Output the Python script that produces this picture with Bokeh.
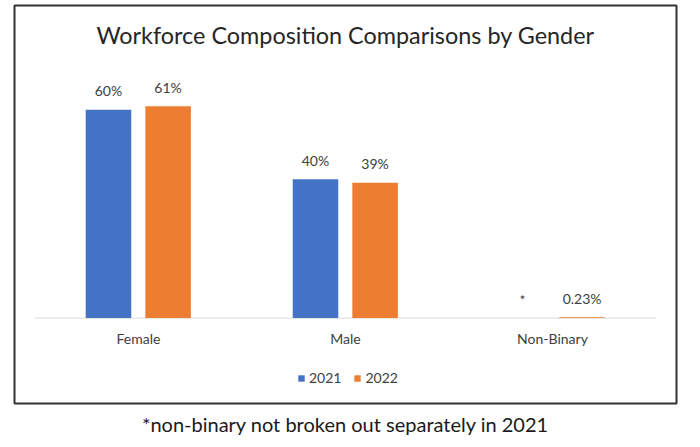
from bokeh.plotting import figure
from bokeh.models import FactorRange, Range1d, ColumnDataSource, Label, Legend, LegendItem, Title
from bokeh.transform import dodge
from bokeh.core.properties import value
from bokeh.embed import file_html
from bokeh.resources import INLINE
import math

categories = ["Female", "Male", "Non-Binary"]
years = ["2021", "2022"]
values_2021 = [60, 40, float("nan")]
values_2022 = [61, 39, 0.23]
labels_2021 = ["60%", "40%", "*"]
labels_2022 = ["61%", "39%", "0.23%"]
title_text = "Workforce Composition Comparisons by Gender"
caption_text = "*non-binary not broken out separately in 2021"

BLUE = "#4472C4"
ORANGE = "#ED7D31"
FONT = value("Lato")

p = figure(width=684, height=445, output_backend="svg", toolbar_location=None,
           x_range=FactorRange(*categories, range_padding=0.066),
           y_range=Range1d(-24.6, 90.06),
           min_border_left=14, min_border_right=8, min_border_top=5, min_border_bottom=42)
p.x_range.range_padding_units = "percent"
p.axis.visible = False
p.grid.visible = False
p.outline_line_color = "#333333"
p.outline_line_width = 2
p.background_fill_color = "white"
p.border_fill_color = "white"

src = ColumnDataSource(dict(
    cat=categories,
    v21=[0 if math.isnan(v) else v for v in values_2021],
    v21bar=values_2021,
    v22=values_2022,
    l21=labels_2021,
    l22=labels_2022,
    zero=[0] * len(categories),
))

# baseline axis line
p.segment(x0=0, x1=len(categories), y0=0, y1=0, line_color="#d9d9d9", line_width=1)

r21 = p.vbar(x=dodge("cat", -0.145, range=p.x_range), top="v21bar", width=0.22,
             source=src, fill_color=BLUE, line_color=None)
r22 = p.vbar(x=dodge("cat", 0.143, range=p.x_range), top="v22", width=0.22,
             source=src, fill_color=ORANGE, line_color=None)

p.text(x=dodge("cat", -0.145, range=p.x_range), y="v21", text="l21", source=src,
       text_font=FONT, text_font_size="14px", text_color="#404040",
       text_align="center", text_baseline="alphabetic", y_offset=-19)
p.text(x=dodge("cat", 0.143, range=p.x_range), y="v22", text="l22", source=src,
       text_font=FONT, text_font_size="14px", text_color="#404040",
       text_align="center", text_baseline="alphabetic", y_offset=-19)

# category labels
p.text(x="cat", y="zero", text="cat", source=src,
       text_font=FONT, text_font_size="14px", text_color="#404040",
       text_align="center", text_baseline="alphabetic", y_offset=20)

p.add_layout(Label(x=len(categories) / 2, y=81.5, text=title_text,
                   text_font="Lato", text_font_size="23.4px", text_color="#262626",
                   text_align="center", text_baseline="alphabetic"))

p.add_layout(Title(text=caption_text, align="center", text_font="Lato",
                   text_font_size="20px", text_color="#1a1a1a", text_font_style="normal",
                   standoff=13, offset=0), "below")

legend = Legend(items=[LegendItem(label=years[0], renderers=[r21]),
                       LegendItem(label=years[1], renderers=[r22])],
                orientation="horizontal", location=(283, 17),
                glyph_width=8, glyph_height=8, label_standoff=4, spacing=12,
                padding=0, margin=0, border_line_color=None, background_fill_alpha=0,
                label_text_font="Lato", label_text_font_size="14px",
                label_text_color="#404040", label_height=16)
p.add_layout(legend, "center")

open("out.html", "w").write(file_html(p, INLINE))
